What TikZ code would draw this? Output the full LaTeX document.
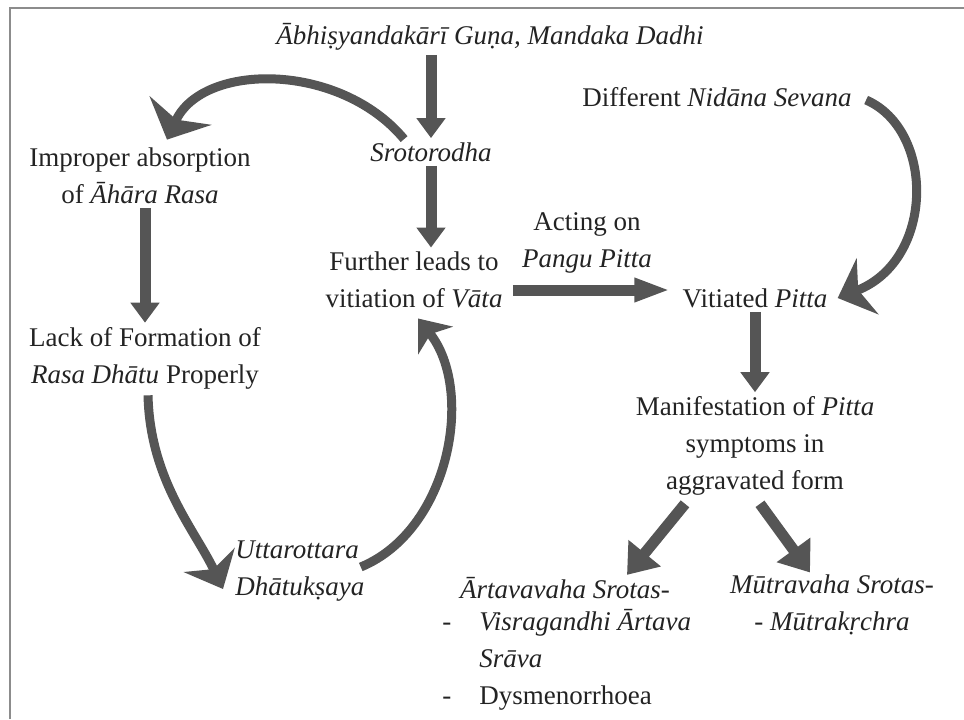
\documentclass[tikz,border=0pt]{standalone}
\usepackage{fontspec}
\setmainfont{Liberation Serif}
\usetikzlibrary{arrows.meta, calc}
\definecolor{flowgray}{RGB}{85, 85, 85}
\definecolor{framegray}{RGB}{140, 140, 140}
\definecolor{inkblack}{RGB}{35, 35, 35}

\begin{document}
\begin{tikzpicture}[x=0.5pt, y=-0.5pt,
    txt/.style={font=\fontsize{13.5}{18.5}\selectfont, text=inkblack, inner sep=2pt, align=center},
    flowarrow/.style={draw=flowgray, line width=5.5pt, -{Triangle[width=14pt, length=10pt]}},
    cyclearrow/.style={draw=flowgray, line width=4.5pt, -{Stealth[width=28pt, length=16pt, inset=5pt]}}]
    \useasboundingbox (0,0) rectangle (964,719);
    \draw[framegray, line width=1.2pt] (10,719) -- (10,8) -- (964,8);

    \node[txt] (source) at (490,37) {\textit{Ābhiṣyandakārī Guṇa, Mandaka Dadhi}};
    \node[txt] (sroto) at (431,152) {\textit{Srotorodha}};
    \node[txt] (vata) at (414,280) {Further leads to\\vitiation of \textit{Vāta}};
    \node[txt] (absorb) at (140,176) {Improper absorption\\of \textit{Āhāra Rasa}};
    \node[txt] (rasa) at (145,358) {Lack of Formation of\\\textit{Rasa Dhātu} Properly};
    \node[txt, anchor=west, align=left] (kshaya) at (231,571) {\textit{Uttarottara}\\\textit{Dhātukṣaya}};
    \node[txt] (nidana) at (717,97) {Different \textit{Nidāna Sevana}};
    \node[txt] (acting) at (587,243) {Acting on\\\textit{Pangu Pitta}};
    \node[txt] (pitta) at (755,298) {Vitiated \textit{Pitta}};
    \node[txt] (manif) at (755,446) {Manifestation of \textit{Pitta}\\symptoms in\\aggravated form};
    \node[txt] (artava) at (565,588) {\textit{Ārtavavaha Srotas-}};
    \node[txt, anchor=west, align=left] (artlist) at (438,660) {%
        \begin{tabular}{@{}l@{\hspace{14pt}}l@{}}
        - & \textit{Visragandhi Ārtava}\\
          & \textit{Srāva}\\
        - & Dysmenorrhoea
        \end{tabular}};
    \node[txt] (mutra) at (832,605) {\textit{Mūtravaha Srotas-}\\- \textit{Mūtrakṛchra}};

    \draw[flowarrow] (sroto.north |- source.south) -- (sroto.north);
    \draw[flowarrow] (sroto.south) -- (sroto.south |- vata.north);
    \draw[flowarrow] (rasa.north |- absorb.south) -- (rasa.north);
    \draw[flowarrow, -{Triangle[width=11pt, length=18pt]}] ($(vata.east)+(6,10)$) -- ($(pitta.west)+(-8,-8)$);
    \draw[flowarrow] (pitta.south) -- (manif.north);
    \draw[flowarrow, -{Triangle[width=20pt, length=14pt]}] ($(manif.south)+(-70,4)$) -- ($(artava.north)+(62,2)$);
    \draw[flowarrow, -{Triangle[width=20pt, length=14pt]}] ($(manif.south)+(5,4)$) -- ($(mutra.north)+(-22,2)$);

    \draw[cyclearrow, -{Stealth[width=34pt, length=16pt, inset=5pt]}] ($(sroto.north west)+(38,1)$) .. controls (340,62) and (203,62) .. ($(absorb.north)+(27,-4)$);
    \draw[cyclearrow] ($(rasa.south)+(3,2)$) .. controls (150,480) and (195,530) .. ($(kshaya.west)+(-8,18)$);
    \draw[cyclearrow, -{Stealth[width=22pt, length=14pt, inset=4pt]}] ($(kshaya.east)+(-8,-4)$) .. controls (450,530) and (475,390) .. ($(vata.south)+(4,6)$);
    \draw[cyclearrow, -{Stealth[width=30pt, length=16pt, inset=5pt]}] ($(nidana.east)+(10,3)$) .. controls (935,130) and (935,260) .. ($(pitta.east)+(6,0)$);
\end{tikzpicture}
\end{document}
